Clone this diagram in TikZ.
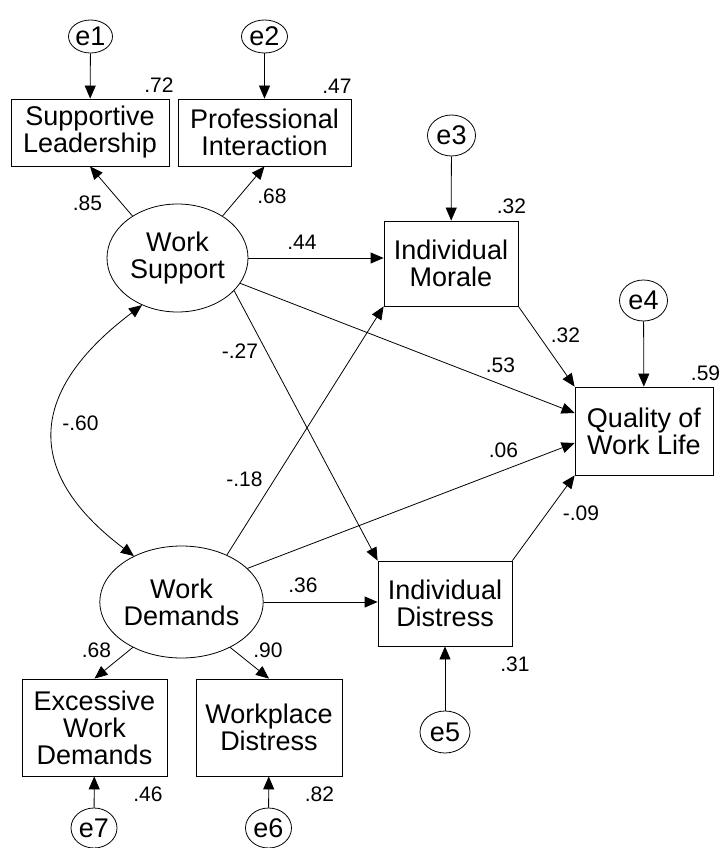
\documentclass[tikz,border=0pt]{standalone}
\usepackage{fontspec}
\setmainfont{Liberation Sans}
\usetikzlibrary{shapes.geometric,arrows.meta}

\begin{document}
\begin{tikzpicture}[x=1pt,y=1pt,->,>={Triangle[length=13pt,width=11pt]},line width=0.8pt,
		font=\fontsize{27}{27}\selectfont,
		obs node/.style={rectangle,draw,align=center,inner sep=0pt},
		lat node/.style={ellipse,draw,align=center,inner sep=0pt},
		err node/.style={ellipse,draw,inner sep=0pt,minimum width=48pt,minimum height=41pt},
		coef/.style={font=\fontsize{21}{22}\selectfont,inner sep=0pt}]
		\useasboundingbox (0,0) rectangle (721,-848);
		\node[lat node, minimum width=141pt, minimum height=108pt] (ws) at (177.5,-258) {Work\\Support};
		\node[lat node, minimum width=151pt, minimum height=112pt] (wd) at (181.5,-602) {Work\\Demands};
		\node[obs node, minimum width=158pt, minimum height=67pt] (sl) at (90,-132.5) {Supportive\\Leadership};
		\node[obs node, minimum width=173pt, minimum height=67pt] (pi) at (264.5,-132.5) {Professional\\Interaction};
		\node[obs node, minimum width=134pt, minimum height=85pt] (im) at (451,-263.5) {Individual\\Morale};
		\node[obs node, minimum width=138pt, minimum height=88pt] (qwl) at (644,-431) {Quality of\\Work Life};
		\node[obs node, minimum width=134pt, minimum height=85pt] (id) at (445,-603.5) {Individual\\Distress};
		\node[obs node, minimum width=145pt, minimum height=97pt] (ewd) at (94.5,-727.5) {Excessive\\Work\\Demands};
		\node[obs node, minimum width=146pt, minimum height=97pt] (wpd) at (269,-727.5) {Workplace\\Distress};
		\node[err node, minimum width=44pt, minimum height=33pt] (e1) at (90.5,-36.5) {e1};
		\node[err node, minimum width=46pt, minimum height=33pt] (e2) at (264.5,-36.5) {e2};
		\node[err node] (e3) at (451.5,-135.5) {e3};
		\node[err node] (e4) at (643.5,-300.5) {e4};
		\node[err node, minimum width=50pt, minimum height=42pt] (e5) at (445,-732) {e5};
		\node[err node, minimum width=46pt, minimum height=40pt] (e6) at (268.5,-828) {e6};
		\node[err node, minimum width=46pt, minimum height=40pt] (e7) at (94,-828) {e7};
		% coefficients
		\node[coef] (r72) at (159,-85.5) {.72};
		\node[coef] (r47) at (337,-86.5) {.47};
		\node[coef] (r32) at (511.5,-206) {.32};
		\node[coef] (r59) at (705.5,-373.5) {.59};
		\node[coef] (r31) at (515,-664) {.31};
		\node[coef] (r46) at (148,-794) {.46};
		\node[coef] (r82) at (319.5,-794) {.82};
		\node[coef] (c85) at (87.5,-203.5) {.85};
		\node[coef] (c68a) at (272,-196.5) {.68};
		\node[coef] (c44) at (302,-242) {.44};
		\node[coef] (c32) at (565.5,-335) {.32};
		\node[coef] (c53) at (500.5,-365) {.53};
		\node[coef] (c06) at (503.5,-450) {.06};
		\node[coef] (c09) at (581,-513.5) {-.09};
		\node[coef] (c27) at (240,-351) {-.27};
		\node[coef] (c60) at (80.5,-423) {-.60};
		\node[coef] (c18) at (244.5,-479) {-.18};
		\node[coef] (c36) at (303,-585) {.36};
		\node[coef] (c68b) at (96.5,-650.5) {.68};
		\node[coef] (c90) at (268,-650.5) {.90};
		\path[->]
		(e1) edge (sl)
		(e2) edge (pi)
		(e3) edge (im)
		(e4) edge (qwl)
		(e5) edge (id)
		(e6) edge (wpd)
		(e7) edge (ewd)
		(ws.137) edge (sl.south)
		(ws.43) edge (pi.south)
		(wd.-137) edge (ewd.north)
		(wd.-43) edge (wpd.north)
		(ws.east) edge (ws.east -| im.west)
		(ws.-22) edge ([yshift=18pt]qwl.west)
		(ws.-30) edge (id.north west)
		(wd.46) edge (im.south west)
		(wd.27) edge ([yshift=-12pt]qwl.west)
		(wd.east) edge (wd.east -| id.west)
		(im.south east) edge (qwl.north west)
		(id.north east) edge (qwl.south west);
		\draw[<->] (ws.233) .. controls +(-112.6,-84.9) and +(-112.6,84.9) .. (wd.136);
\end{tikzpicture}
\end{document}
